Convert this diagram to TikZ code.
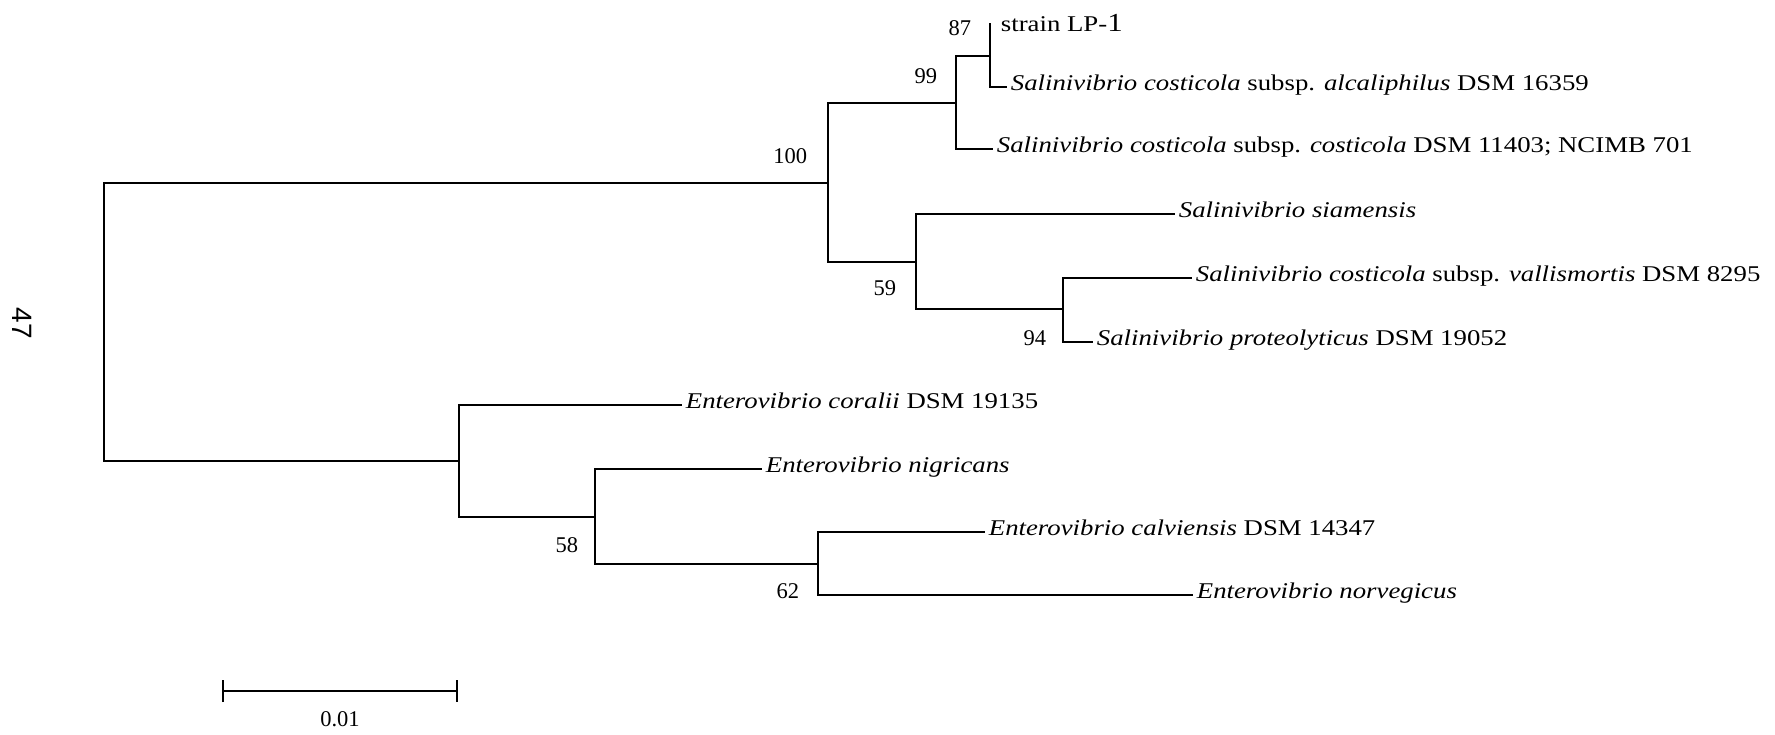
\documentclass[tikz,border=0pt]{standalone}
\usepackage{fontspec}
\setmainfont{Liberation Serif}
\newfontfamily\sidefont{Liberation Sans}
\usepackage{graphicx}
\usepackage{tikz}
\usetikzlibrary{positioning,arrows.meta}

% leaf labels are set a bit wider than the font
\newcommand{\wide}[1]{\scalebox{1.19}[1]{#1}}

\begin{document}
\begin{tikzpicture}[x=1pt,y=-1pt,line width=1.8pt,font=\fontsize{22.5}{27}\selectfont,
    leaf/.style={anchor=west,inner sep=3pt,text height=12pt,text depth=6pt},
    boot/.style={inner sep=0pt},
    branch/.style={to path={|- (\tikztotarget) \tikztonodes}}]
    \useasboundingbox (0,0) rectangle (1775,734);

    % inner nodes of the tree
    \coordinate (root) at (104,322);
    \coordinate (n100) at (828,183);
    \coordinate (n99) at (956,103);
    \coordinate (n87) at (990,56);
    \coordinate (n59) at (916,262);
    \coordinate (n94) at (1063,309);
    \coordinate (nE) at (459,461);
    \coordinate (n58) at (595,517);
    \coordinate (n62) at (818,564);

    % leaves
    \coordinate (lp1tip) at (990,23);
    \node[anchor=base west,inner sep=0pt] (lp1) at (1000,31) {\wide{strain LP-{\fontsize{26}{27}\selectfont 1}}};
    \node[leaf] (alca) at (1007,87) {\wide{\textit{Salinivibrio costicola} subsp. \textit{alcaliphilus} DSM 16359}};
    \node[leaf] (cost) at (993,149) {\wide{\textit{Salinivibrio costicola} subsp. \textit{costicola} DSM 11403; NCIMB 701}};
    \node[leaf] (siam) at (1175,214) {\wide{\textit{Salinivibrio siamensis}}};
    \node[leaf] (vall) at (1192,278) {\wide{\textit{Salinivibrio costicola} subsp. \textit{vallismortis} DSM 8295}};
    \node[leaf] (prot) at (1093,342) {\wide{\textit{Salinivibrio proteolyticus} DSM 19052}};
    \node[leaf] (cora) at (682,405) {\wide{\textit{Enterovibrio coralii} DSM 19135}};
    \node[leaf] (nigr) at (762,469) {\wide{\textit{Enterovibrio nigricans}}};
    \node[leaf] (calv) at (985,532) {\wide{\textit{Enterovibrio calviensis} DSM 14347}};
    \node[leaf] (norv) at (1193,595) {\wide{\textit{Enterovibrio norvegicus}}};

    \path[branch]
    (root) edge (n100)
           edge (nE)
    (n100) edge (n99)
           edge (n59)
    (n99) edge (n87)
          edge (cost.west)
    (n87) edge (lp1tip)
          edge (alca.west)
    (n59) edge (siam.west)
          edge (n94)
    (n94) edge (vall.west)
          edge (prot.west)
    (nE) edge (cora.west)
         edge (n58)
    (n58) edge (nigr.west)
          edge (n62)
    (n62) edge (calv.west)
          edge (norv.west);

    % bootstrap values
    \node[boot,above left=18pt and 20pt of n100] (b100) {100};
    \node[boot,above left=18pt and 18pt of n99] (b99) {99};
    \node[boot,above left=19pt and 18pt of n87] (b87) {87};
    \node[boot,below left=18pt and 19pt of n59] (b59) {59};
    \node[boot,below left=21pt and 16pt of n94] (b94) {94};
    \node[boot,below left=20pt and 16pt of n58] (b58) {58};
    \node[boot,below left=19pt and 18pt of n62] (b62) {62};

    \node[rotate=-90,font=\sidefont\fontsize{28}{30}\selectfont] (side) at (22,323) {47};

    % scale bar
    \coordinate (sbl) at (222,691);
    \coordinate (sbr) at (458,691);
    \draw[{Bar[width=22pt]}-{Bar[width=22pt]}] (sbl) -- (sbr) node[midway,below=20pt,inner sep=0pt] (sblab) {0.01};
\end{tikzpicture}
\end{document}
